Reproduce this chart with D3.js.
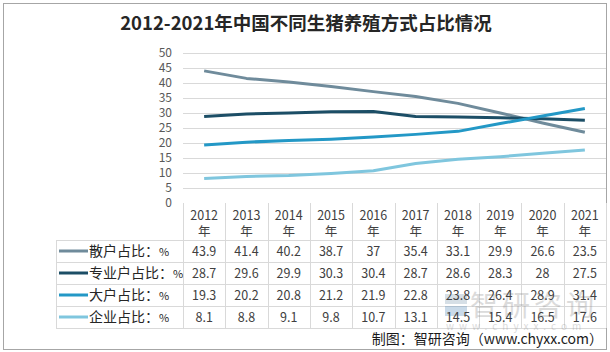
<!DOCTYPE html>
<html lang="zh">
<head>
<meta charset="UTF-8">
<title>2012-2021年中国不同生猪养殖方式占比情况</title>
<script src="https://d3js.org/d3.v7.min.js"></script>
<style>
  body { margin: 0; background: #fff; }
  text { font-family: "Noto Sans CJK SC", "Noto Sans", sans-serif; }
</style>
</head>
<body>
<svg id="chart"></svg>
<script>
// data
const years = ["2012", "2013", "2014", "2015", "2016", "2017", "2018", "2019", "2020", "2021"];
const seriesNames = ["散户占比：%", "专业户占比：%", "大户占比：%", "企业占比：%"];
const sanhu = [43.9, 41.4, 40.2, 38.7, 37, 35.4, 33.1, 29.9, 26.6, 23.5];
const zhuanye = [28.7, 29.6, 29.9, 30.3, 30.4, 28.7, 28.6, 28.3, 28, 27.5];
const dahu = [19.3, 20.2, 20.8, 21.2, 21.9, 22.8, 23.8, 26.4, 28.9, 31.4];
const qiye = [8.1, 8.8, 9.1, 9.8, 10.7, 13.1, 14.5, 15.4, 16.5, 17.6];
const yTicks = [0, 5, 10, 15, 20, 25, 30, 35, 40, 45, 50];

const seriesValues = [sanhu, zhuanye, dahu, qiye];
const colors = ["#6f8b9b", "#1c4e66", "#2398c6", "#7fc6de"];

const W = 610, H = 352;
const svg = d3.select("#chart").attr("width", W).attr("height", H);

// outer frame
svg.append("rect")
  .attr("x", 3.5).attr("y", 3.5)
  .attr("width", 603).attr("height", 346)
  .attr("fill", "#fff").attr("stroke", "#a6a6a6");

svg.append("text")
  .attr("x", 306).attr("y", 30)
  .attr("text-anchor", "middle")
  .attr("font-size", 18.5).attr("font-weight", "bold")
  .attr("fill", "#262626")
  .text("2012-2021年中国不同生猪养殖方式占比情况");

// plot area / table columns
const left = 183, right = 606;
const x = d3.scaleBand().domain(years).range([left, right]);
const y = d3.scaleLinear().domain([0, 50]).range([203, 52.5]);

// gridlines
svg.append("g")
  .selectAll("line")
  .data(yTicks.filter(d => d > 0))
  .join("line")
  .attr("x1", left).attr("x2", right)
  .attr("y1", d => Math.round(y(d)) + 0.5)
  .attr("y2", d => Math.round(y(d)) + 0.5)
  .attr("stroke", "#d9d9d9");

const yAxis = d3.axisLeft(y).tickValues(yTicks).tickSize(0).tickPadding(0);
svg.append("g")
  .attr("transform", "translate(172,0)")
  .call(yAxis)
  .call(g => g.select(".domain").remove())
  .call(g => g.selectAll("text")
    .attr("font-size", 12)
    .attr("fill", "#595959")
    .attr("font-family", "\"Noto Sans CJK SC\", sans-serif"));

// lines
const line = d3.line()
  .x((d, i) => x(years[i]) + x.bandwidth() / 2)
  .y(d => y(d));

svg.append("g")
  .selectAll("path")
  .data(seriesValues)
  .join("path")
  .attr("d", line)
  .attr("fill", "none")
  .attr("stroke", (d, i) => colors[i])
  .attr("stroke-width", 3)
  .attr("stroke-linejoin", "round");

// data table
const headTop = 203, headBottom = 240, rowH = 22, tableLeft = 56;
const tableBottom = headBottom + rowH * seriesNames.length;
const grid = svg.append("g").attr("stroke", "#d9d9d9").attr("fill", "none");

// vertical lines
grid.selectAll("line.v")
  .data(d3.range(years.length + 1))
  .join("line")
  .attr("x1", i => Math.round(left + i * x.bandwidth()) + 0.5)
  .attr("x2", i => Math.round(left + i * x.bandwidth()) + 0.5)
  .attr("y1", headTop)
  .attr("y2", tableBottom);
grid.append("line")
  .attr("x1", tableLeft + 0.5).attr("x2", tableLeft + 0.5)
  .attr("y1", headBottom).attr("y2", tableBottom);

// horizontal lines
grid.selectAll("line.h")
  .data(d3.range(seriesNames.length + 1))
  .join("line")
  .attr("x1", tableLeft).attr("x2", right)
  .attr("y1", i => headBottom + i * rowH + 0.5)
  .attr("y2", i => headBottom + i * rowH + 0.5);

// header
const head = svg.append("g")
  .attr("font-size", 12.5).attr("fill", "#404040").attr("text-anchor", "middle");
years.forEach(yr => {
  const cx = x(yr) + x.bandwidth() / 2;
  head.append("text").attr("x", cx).attr("y", 220).text(yr);
  head.append("text").attr("x", cx).attr("y", 236).text("年");
});

// watermark (drawn under the numbers)
const wm = svg.append("g").attr("opacity", 0.3);
wm.append("rect").attr("x", 445).attr("y", 294).attr("width", 22).attr("height", 10).attr("fill", "#7a97ad");
wm.append("rect").attr("x", 445).attr("y", 306).attr("width", 22).attr("height", 10).attr("fill", "#4f86b8");
wm.append("text").attr("x", 470).attr("y", 316)
  .attr("font-size", 28).attr("fill", "#8a8a8a").attr("letter-spacing", 4).text("智研咨询");
wm.append("text").attr("x", 446).attr("y", 330)
  .attr("font-size", 10).attr("fill", "#8a8a8a").attr("letter-spacing", 5).text("www.chyxx.com");

// rows
seriesNames.forEach((name, r) => {
  const cy = headBottom + r * rowH + rowH / 2;
  svg.append("line")
    .attr("x1", 59).attr("x2", 88)
    .attr("y1", cy).attr("y2", cy)
    .attr("stroke", colors[r]).attr("stroke-width", 3);
  const parts = name.split("%");
  const t = svg.append("text")
    .attr("x", 89).attr("y", cy + 5)
    .attr("font-size", 14).attr("fill", "#262626");
  t.append("tspan").text(parts[0]);
  t.append("tspan").attr("font-size", 11).text("%");
  svg.append("g").selectAll("text")
    .data(seriesValues[r])
    .join("text")
    .attr("x", (d, i) => x(years[i]) + x.bandwidth() / 2)
    .attr("y", cy + 4.5)
    .attr("text-anchor", "middle")
    .attr("font-size", 12.5)
    .attr("fill", "#404040")
    .text(d => d);
});

// footer
svg.append("text")
  .attr("x", 603).attr("y", 344)
  .attr("text-anchor", "end")
  .attr("font-size", 14).attr("fill", "#1a1a1a")
  .text("制图：智研咨询（www.chyxx.com）");
</script>
</body>
</html>
